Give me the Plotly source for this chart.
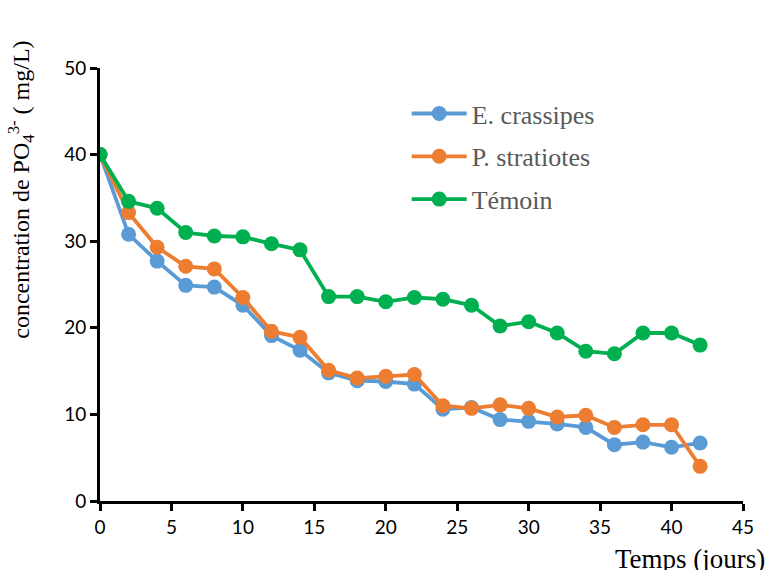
import plotly.graph_objects as go

# Sampling days
jours = [0, 2, 4, 6, 8, 10, 12, 14, 16, 18, 20, 22, 24, 26, 28, 30, 32, 34, 36, 38, 40, 42]

# Phosphate concentration (mg/L) per treatment
e_crassipes = [40, 30.8, 27.7, 24.9, 24.7, 22.6, 19.1, 17.4, 14.8, 13.9, 13.8, 13.5,
               10.6, 10.8, 9.4, 9.2, 8.9, 8.5, 6.5, 6.8, 6.2, 6.7]
p_stratiotes = [40, 33.3, 29.3, 27.1, 26.8, 23.5, 19.6, 18.9, 15.1, 14.2, 14.4, 14.6,
                11.0, 10.7, 11.1, 10.7, 9.7, 9.9, 8.5, 8.8, 8.8, 4.0]
temoin = [40, 34.6, 33.8, 31.0, 30.6, 30.5, 29.7, 29.0, 23.6, 23.6, 23.0, 23.5,
          23.3, 22.6, 20.2, 20.7, 19.4, 17.3, 17.0, 19.4, 19.4, 18.0]

series = [
    ("E. crassipes", e_crassipes, "#5B9BD5"),
    ("P. stratiotes", p_stratiotes, "#ED7D31"),
    ("Témoin", temoin, "#00B050"),
]

fig = go.Figure()
for i, (name, vals, color) in enumerate(series):
    fig.add_trace(go.Scatter(
        x=jours, y=vals, name=name, mode="lines+markers",
        line=dict(color=color, width=3.8),
        marker=dict(color=color, size=15),
        legendgroup=f"g{i}",
    ))

axis_font = dict(family="Lato, Carlito, Liberation Sans, sans-serif", size=19, color="black")
serif = "Liberation Serif, Times New Roman, serif"

fig.update_layout(
    width=766, height=570,
    margin=dict(l=100, r=17, t=68, b=69),
    paper_bgcolor="white", plot_bgcolor="white",
    showlegend=True,
    legend=dict(
        x=0.477, y=0.949, xanchor="left", yanchor="top",
        font=dict(family=serif, size=26, color="#595959"),
        bgcolor="rgba(0,0,0,0)", tracegroupgap=6, itemwidth=55,
    ),
    xaxis=dict(
        range=[0, 45], tickvals=[0, 5, 10, 15, 20, 25, 30, 35, 40, 45],
        showline=True, linecolor="black", linewidth=3,
        ticks="outside", ticklen=7, tickwidth=3, tickcolor="black",
        showgrid=False, zeroline=False, tickfont=axis_font,
    ),
    yaxis=dict(
        range=[0, 50], tickvals=[0, 10, 20, 30, 40, 50],
        showline=True, linecolor="black", linewidth=3,
        ticks="outside", ticklen=7, tickwidth=3, tickcolor="black",
        showgrid=False, zeroline=False, tickfont=axis_font,
    ),
    annotations=[
        dict(
            text="concentration de PO<sub>4</sub><sup>3-</sup> ( mg/L)",
            xref="paper", yref="paper", x=-0.123, y=0.37,
            xanchor="center", yanchor="bottom", textangle=-90, showarrow=False,
            font=dict(family=serif, size=24, color="black"),
        ),
        dict(
            text="Temps (jours)", xref="paper", yref="paper",
            x=1.037, y=-0.134, xanchor="right", yanchor="middle", showarrow=False,
            font=dict(family=serif, size=27, color="black"),
        ),
    ],
)

fig.write_html("out.html")
